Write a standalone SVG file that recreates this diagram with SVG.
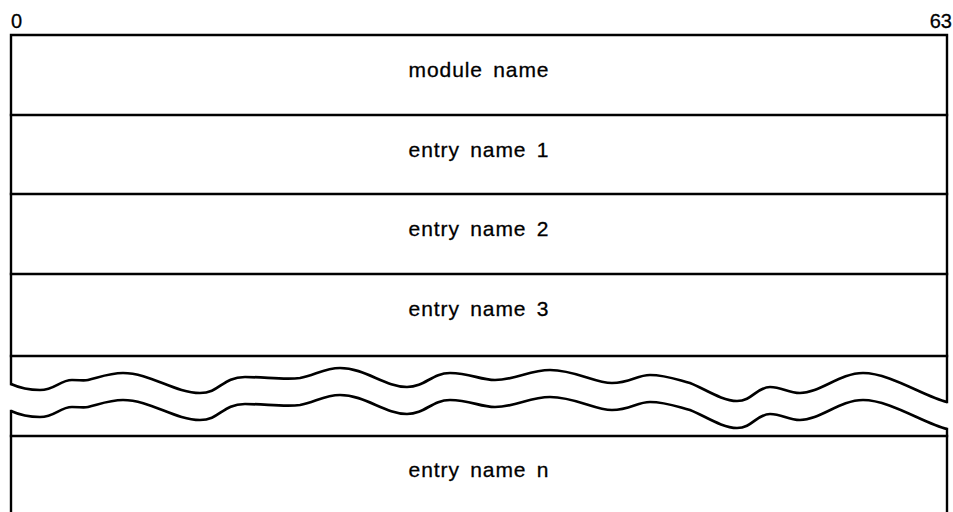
<svg xmlns="http://www.w3.org/2000/svg" width="953" height="512" viewBox="0 0 953 512">
<style>
.ln{stroke:#000;stroke-width:2.4;fill:none;stroke-linecap:square}
.wv{stroke:#000;stroke-width:2.7;fill:none;stroke-linejoin:round}
.lbl{font-family:"Liberation Sans",Arial,sans-serif;font-size:21px;letter-spacing:0.9px;word-spacing:3.7px;fill:#000;text-anchor:middle;stroke:#000;stroke-width:0.3}
.bit{font-family:"Liberation Sans",Arial,sans-serif;font-size:20px;fill:#000;stroke:#000;stroke-width:0.3}
</style>
<defs>
<path id="wave" d="M11,384 C22,389 32,390 40,390 C55,390 60,380 72,380 C80,380 84,381 88,380 C100,377 110,373 123,373 C150,373 175,393 200,393 C220,393 222,377 245,377 C265,377 285,380 300,378 C315,375 325,368 340,368 C365,368 385,387 407,387 C425,387 432,373 450,373 C470,373 480,380 495,380 C515,380 530,370 550,370 C575,370 595,383 612,383 C630,383 637,375 650,375 C665,375 675,379 690,383 C705,389 722,401 737,401 C752,401 757,387 770,387 C782,387 788,393 800,393 C820,393 840,373 863,373 C890,373 925,397 947,402"/>
</defs>
<g id="frame">
<path class="ln" d="M11,384 V35 H947 V402"/>
<path class="ln" d="M11,411 V512"/>
<path class="ln" d="M947,429 V512"/>
<line class="ln" x1="11" y1="115" x2="947" y2="115"/>
<line class="ln" x1="11" y1="194" x2="947" y2="194"/>
<line class="ln" x1="11" y1="274" x2="947" y2="274"/>
<line class="ln" x1="11" y1="356" x2="947" y2="356"/>
<line class="ln" x1="11" y1="436" x2="947" y2="436"/>
<use href="#wave" class="wv"/>
<use href="#wave" class="wv" transform="translate(0,27)"/>
</g>
<g id="bit-labels">
<text class="bit" x="11" y="28">0</text>
<text class="bit" x="952" y="28" text-anchor="end">63</text>
</g>
<g id="module-name"><text class="lbl" x="479" y="77">module name</text></g>
<g id="entry-1"><text class="lbl" x="479" y="157">entry name 1</text></g>
<g id="entry-2"><text class="lbl" x="479" y="236">entry name 2</text></g>
<g id="entry-3"><text class="lbl" x="479" y="316">entry name 3</text></g>
<g id="entry-n"><text class="lbl" x="479" y="477">entry name n</text></g>
</svg>
